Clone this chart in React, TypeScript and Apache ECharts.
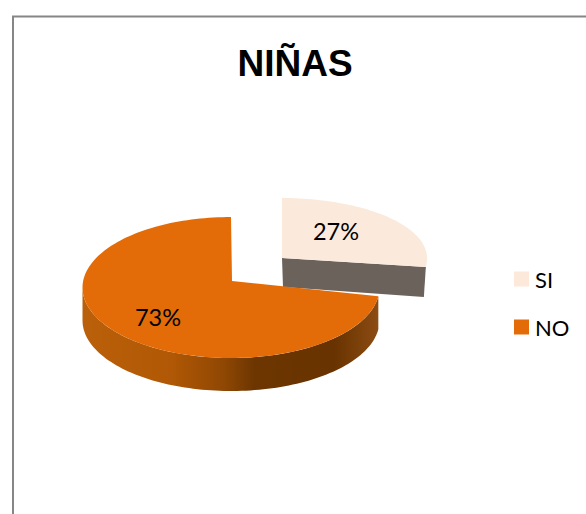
import React, { useEffect, useRef } from "react";
import * as echarts from "echarts";

const categories = ["SI", "NO"];
const seriesValues = [27, 73];
const topColors = ["#fbeadb", "#e36c09"];
const total = seriesValues.reduce((a, b) => a + b, 0);

// projection of the tilted pie, one entry per slice
const APEX = [[282, 258], [232, 281]];
const RIM_CENTER = [[282, 258], [231, 287.5]];
const RX = [145, 148.5];
const RY_BACK = [60, 70.5];
const RY_FRONT = [72, 70.5];
const DEPTH = 33;
const LABEL_AT = [[336, 231], [158, 317]];

function startFraction(i: number) {
  let s = 0;
  for (let k = 0; k < i; k++) s += seriesValues[k];
  return s / total;
}

function point(idx: number, angle: number, dy = 0) {
  const c = Math.cos(angle);
  const ry = c > 0 ? RY_BACK[idx] : RY_FRONT[idx];
  return [RIM_CENTER[idx][0] + RX[idx] * Math.sin(angle), RIM_CENTER[idx][1] - ry * c + dy];
}

function arc(idx: number, a0: number, a1: number, dy = 0) {
  const pts: number[][] = [];
  const n = Math.max(2, Math.ceil(Math.abs(a1 - a0) / 0.03));
  for (let i = 0; i <= n; i++) pts.push(point(idx, a0 + ((a1 - a0) * i) / n, dy));
  return pts;
}

function makeRender(idx: number) {
  return () => {
    const a0 = startFraction(idx) * Math.PI * 2;
    const a1 = a0 + (seriesValues[idx] / total) * Math.PI * 2;
    const [ax, ay] = APEX[idx];
    const children: any[] = [];

    if (idx === 0) {
      // radial wall facing the viewer
      const end = point(idx, a1);
      children.push({
        type: "polygon",
        shape: { points: [[ax, ay], end, [end[0] - 2, end[1] + DEPTH - 3], [ax + 1, ay + DEPTH - 4]] },
        style: { fill: "#6b625b" },
      });
    } else {
      // visible rim at the front of the pie
      const f1 = (3 * Math.PI) / 2;
      const top = arc(idx, a0, f1);
      const bottom = arc(idx, f1, a0, DEPTH);
      children.push({
        type: "polygon",
        shape: { points: top.concat(bottom) },
        style: {
          fill: new echarts.graphic.LinearGradient(0, 0, 1, 0, [
            { offset: 0, color: "#bb600a" },
            { offset: 0.3, color: "#b05805" },
            { offset: 0.48, color: "#8f4703" },
            { offset: 0.58, color: "#6d3601" },
            { offset: 0.85, color: "#683300" },
            { offset: 1, color: "#8c4c12" },
          ]),
        },
      });
    }

    children.push({
      type: "polygon",
      shape: { points: [[ax, ay]].concat(arc(idx, a0, a1)) },
      style: { fill: topColors[idx] },
    });

    children.push({
      type: "text",
      style: {
        text: `${Math.round((seriesValues[idx] / total) * 100)}%`,
        x: LABEL_AT[idx][0],
        y: LABEL_AT[idx][1],
        align: "center",
        verticalAlign: "middle",
        fill: "#000000",
        font: "23.5px Lato",
      },
    });

    return { type: "group", children };
  };
}

export default function App() {
  const ref = useRef<HTMLDivElement>(null);
  useEffect(() => {
    const chart = echarts.init(ref.current!, undefined, { renderer: "svg" });
    chart.setOption({
      animation: false,
      backgroundColor: "#ffffff",
      title: {
        text: "NIÑAS",
        left: 290,
        top: 40,
        padding: 5,
        textAlign: "center",
        textStyle: { fontFamily: "Liberation Sans", fontWeight: "bold", fontSize: 37, color: "#000000" },
      },
      legend: {
        data: categories,
        orient: "vertical",
        left: 514,
        top: 268,
        padding: 0,
        itemWidth: 15,
        itemHeight: 15,
        itemGap: 26,
        itemStyle: { borderWidth: 0 },
        icon: "rect",
        textStyle: { fontFamily: "Lato", fontSize: 22, color: "#000000", padding: [0, 0, 0, 1] },
      },
      graphic: [
        {
          type: "polyline",
          silent: true,
          shape: { points: [[586, 16.5], [13, 16.5], [13, 514]] },
          style: { stroke: "#868686", lineWidth: 2, fill: "none" },
        },
      ],
      // SI is painted first: the NO slice lies over its wall
      series: categories.map((name, i) => ({
        type: "custom",
        name,
        coordinateSystem: "none",
        silent: true,
        itemStyle: { color: i === 0 ? "#fde9d9" : topColors[i] },
        data: [[seriesValues[i]]],
        renderItem: makeRender(i),
      })),
    });
    return () => chart.dispose();
  }, []);
  return (
    <div
      ref={ref}
      style={{ position: "absolute", left: 0, top: 0, width: 586, height: 514, overflow: "hidden" }}
    />
  );
}
